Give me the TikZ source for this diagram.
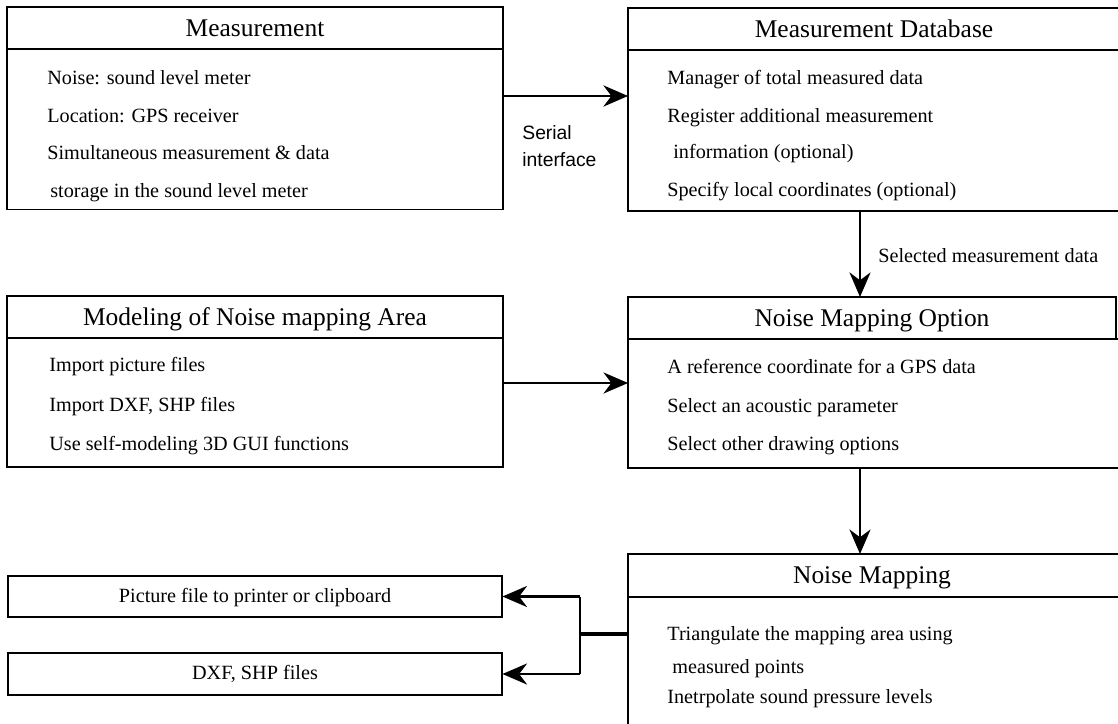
\documentclass[tikz,border=0pt]{standalone}
\usepackage{fontspec}
\setmainfont{Liberation Serif}
\newfontfamily\sansf{Liberation Sans}
\usetikzlibrary{arrows.meta}
\newcommand{\hdrfont}{\fontsize{14.5pt}{17pt}\selectfont}
\newcommand{\bodyfont}{\fontsize{11.5pt}{14pt}\selectfont}
\tikzset{
  hdr/.style={draw, line width=1.6pt, minimum width=9.92cm, minimum height=0.84cm,
    inner sep=0pt, outer sep=0pt, font=\hdrfont, text height=0.95em, text depth=0pt},
  hdrtxt/.style={inner sep=0pt, font=\hdrfont, text height=0.95em, text depth=0pt},
  bodybox/.style={draw, line width=0.9pt, minimum width=9.92cm, inner sep=0pt, outer sep=0pt},
  outbox/.style={draw, line width=1.1pt, minimum width=9.9cm, minimum height=0.83cm,
    inner sep=0pt, outer sep=0pt, font=\bodyfont, text height=0.68em, text depth=0pt},
  txt/.style={anchor=west, inner sep=0pt, font=\bodyfont, text height=0.68em, text depth=0pt},
  tip/.style={-{Stealth[length=14pt, width=12pt, inset=4.5pt]}},
  conn/.style={line width=1.3pt}
}
\begin{document}
\begin{tikzpicture}[x=0.02cm, y=-0.02cm]
\useasboundingbox (0,0) rectangle (1118,723);
\fill[white] (0,0) rectangle (1118,723);
\clip (0,0) rectangle (1118,723);

% helper coordinates
\coordinate (ys) at (0,96);
\coordinate (ym) at (0,383);
\coordinate (vx) at (860,0);
\coordinate (jy) at (0,634);
\coordinate (jx) at (580,0);

% Measurement
\node[bodybox, minimum height=3.22cm] (measbody) at (255,129) {};
\node[hdr] (meashdr) at (255,28) {Measurement};
\node[txt] (m1) at (47,79) {Noise: sound level meter};
\node[txt] (m2) at (47,117) {Location: GPS receiver};
\node[txt] (m3) at (47,154) {Simultaneous measurement \& data};
\node[txt] (m4) at (50,192) {storage in the sound level meter};

% Measurement Database (runs past the right edge)
\node[bodybox, minimum width=10.4cm, minimum height=3.22cm] (dbbody) at (888,130.5) {};
\node[hdr, minimum width=10.4cm] (dbhdr) at (888,29) {};
\node[hdrtxt] (dbtitle) at (874,29) {Measurement Database};
\node[txt] (d1) at (667,79) {Manager of total measured data};
\node[txt] (d2) at (667,117) {Register additional measurement};
\node[txt] (d3) at (673,153) {information (optional)};
\node[txt] (d4) at (667,191) {Specify local coordinates (optional)};

% Modeling
\node[bodybox, minimum height=2.58cm] (modbody) at (255,402.5) {};
\node[hdr] (modhdr) at (255,317) {Modeling of Noise mapping Area};
\node[txt] (o1) at (49,366) {Import picture files};
\node[txt] (o2) at (49,406) {Import DXF, SHP files};
\node[txt] (o3) at (49,445) {Use self-modeling 3D GUI functions};

% Noise Mapping Option
\node[bodybox, minimum width=10.4cm, minimum height=2.58cm] (optbody) at (888,403.5) {};
\node[hdr, minimum width=9.76cm] (opthdr) at (872,318) {Noise Mapping Option};
\node[txt] (p1) at (667,368) {A reference coordinate for a GPS data};
\node[txt] (p2) at (667,407) {Select an acoustic parameter};
\node[txt] (p3) at (667,445) {Select other drawing options};

% Noise Mapping (runs past the right and bottom edges)
\node[bodybox, minimum width=10.4cm, minimum height=3.26cm] (nmbody) at (888,678.5) {};
\node[hdr, minimum width=10.4cm, minimum height=0.86cm] (nmhdr) at (888,575.5) {};
\node[hdrtxt] (nmtitle) at (872,575.5) {Noise Mapping};
\node[txt] (n1) at (667,635) {Triangulate the mapping area using};
\node[txt] (n2) at (672,668) {measured points};
\node[txt] (n3) at (667,698) {Inetrpolate sound pressure levels};

% Output boxes
\node[outbox] (out1) at (255,596.5) {Picture file to printer or clipboard};
\node[outbox] (out2) at (255,674) {DXF, SHP files};

% Connectors
\draw[tip, line width=1.7pt] (measbody.east |- ys) -- (dbbody.west |- ys);
\node[anchor=west, inner sep=0pt, align=left,
  font=\sansf\fontsize{11pt}{15.3pt}\selectfont] (serial) at (522,146.5) {Serial\\interface};

\draw[tip, line width=1.2pt] (modbody.east |- ym) -- (optbody.west |- ym);

\draw[tip, conn] (dbbody.south -| vx) -- (opthdr.north -| vx);
\node[txt] (sel) at (878,257) {Selected measurement data};

\draw[tip, conn] (optbody.south -| vx) -- (nmhdr.north -| vx);

\draw[line width=2.2pt] (nmbody.west |- jy) -- (jx |- jy);
\draw[line width=1.6pt] (jx |- out1.east) -- (jx |- out2.east);
\draw[tip, conn] (jx |- out1.east) -- (out1.east);
\draw[tip, conn] (jx |- out2.east) -- (out2.east);
\end{tikzpicture}
\end{document}
